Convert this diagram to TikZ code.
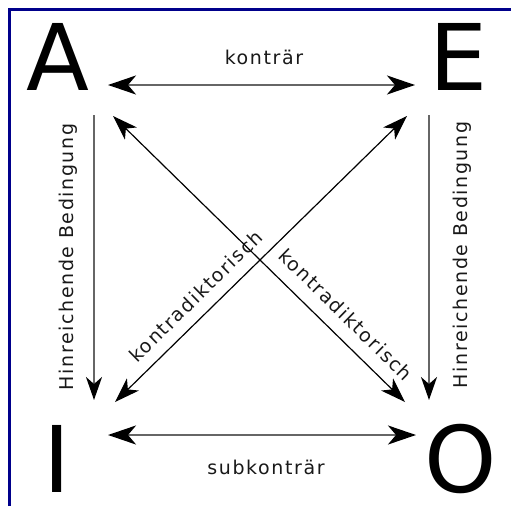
\documentclass[tikz,border=0pt]{standalone}
\usepackage{fontspec}
\setmainfont{DejaVu Sans}
\newfontfamily\lblfont[LetterSpace=8.5]{DejaVu Sans}
\usetikzlibrary{arrows.meta,calc}
\definecolor{framenavy}{RGB}{0,0,139}
\begin{document}
\begin{tikzpicture}[x=1pt,y=-1pt,
  big/.style={font=\fontsize{92}{92}\selectfont, anchor=base, inner sep=0pt, text depth=0pt},
  lbl/.style={font=\lblfont\fontsize{19}{21}\selectfont, inner sep=0pt, text=black!90, anchor=base},
  hline/.style={draw=black!60, line width=2.2pt, {Stealth[length=28pt,width=19pt,inset=8pt,color=black]}-{Stealth[length=28pt,width=19pt,inset=8pt,color=black]}},
  vline/.style={draw=black!60, line width=2pt, -{Stealth[length=23pt,width=16pt,inset=7pt,color=black]}},
  dline/.style={draw=black, line width=1.2pt, {Stealth[length=25pt,width=17pt,inset=7pt,color=black]}-{Stealth[length=25pt,width=17pt,inset=7pt,color=black]}},
  frame/.style={draw=framenavy, line width=3.2pt}
]
\useasboundingbox (0,0) rectangle (511,506);
% frame (top and left only)
\draw[frame] (9.5,506) -- (9.5,9.5) -- (511,9.5);

% corner letters
\node[big] (A) at (58,90) {A};
\node[big] (E) at (459,90) {E};
\node[big] (I) at (57.5,492) {I};
\node[big] (O) at (461,492) {O};

% connector ends
\coordinate (tL) at (108,85);
\coordinate (tR) at (415,85);
\coordinate (bL) at (108,435);
\coordinate (bR) at (416,435);
\coordinate (lT) at (94,115);
\coordinate (lB) at (94,400);
\coordinate (rT) at (429,115);
\coordinate (rB) at (429,400);
\coordinate (dA) at (113,116);
\coordinate (dO) at (405,402);
\coordinate (dE) at (407,116);
\coordinate (dI) at (115,402);

% connectors
\draw[hline] (tL) -- (tR);
\draw[hline] (bL) -- (bR);
\draw[vline] (lT) -- (lB);
\draw[vline] (rT) -- (rB);
\draw[dline] (dA) -- (dO);
\draw[dline] (dE) -- (dI);

% labels
\node[lbl] (kontr) at (264,64) {konträr};
\node[lbl] (subk) at (266,474) {subkonträr};
\node[lbl, rotate=90] (hbl) at (73,257) {Hinreichende Bedingung};
\node[lbl, rotate=90] (hbr) at (467,255) {Hinreichende Bedingung};
\node[lbl, rotate=-44.4] (kdr) at ($(dA)!0.747!(dO) + (9.8,-10)$) {kontradiktorisch};
\node[lbl, rotate=44.4] (kdl) at ($(dI)!0.322!(dE) + (-8.4,-8.6)$) {kontradiktorisch};
\end{tikzpicture}
\end{document}
